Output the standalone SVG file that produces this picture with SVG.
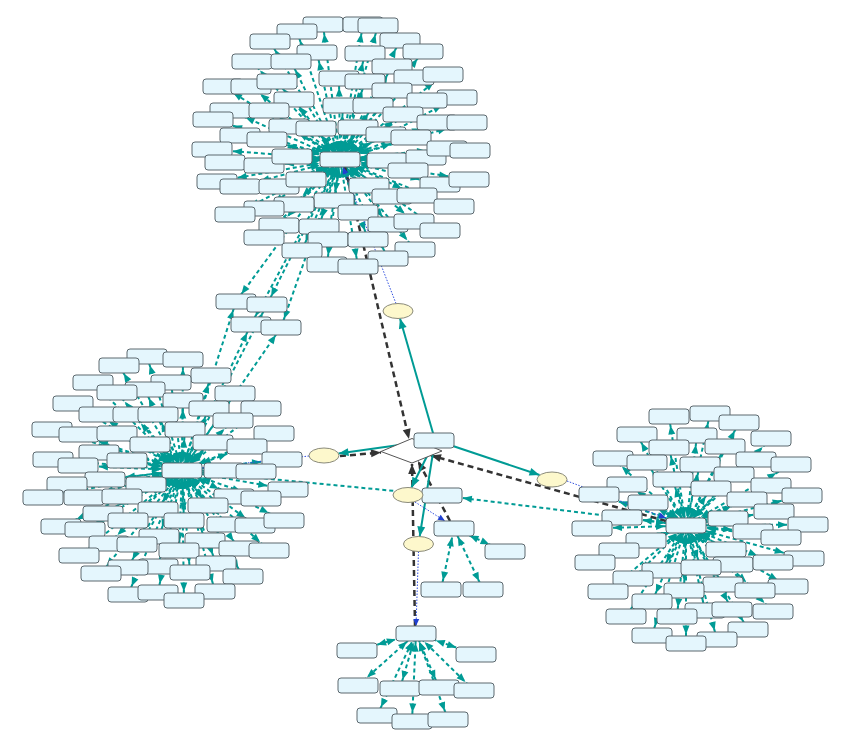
<svg xmlns="http://www.w3.org/2000/svg" width="842" height="755" viewBox="0 0 842 755">
<style>
.n{fill:#e4f6fd;stroke:#5c686e;stroke-width:1;width:40px;height:15px;rx:3px;ry:3px}
.e{fill:#fdf8cc;stroke:#8a8a7a;stroke-width:1}
.d{fill:#fff;stroke:#555;stroke-width:1}
.td line{stroke:#009b95;stroke-width:2;stroke-dasharray:4 3;fill:none}
.A{marker-start:url(#a9);marker-end:url(#a9)}
.B{marker-start:url(#a12);marker-end:url(#a12)}
.C{marker-start:url(#a17);marker-end:url(#a17)}
.D{marker-start:url(#a21);marker-end:url(#a21)}
.bk{stroke:#333;stroke-width:2.5;stroke-dasharray:6 4;fill:none;marker-end:url(#mbk)}
.ts{stroke:#009b95;stroke-width:2;fill:none;marker-end:url(#mts)}
.bl{stroke:#3050e0;stroke-width:1;stroke-dasharray:1.5 1.5;fill:none;marker-end:url(#mbl)}
</style>
<defs>
<marker id="a9" markerUnits="userSpaceOnUse" markerWidth="1" markerHeight="1" overflow="visible" orient="auto-start-reverse"><path d="M-18,-3.5L-9,0L-18,3.5Z" fill="#009b95"/></marker>
<marker id="a12" markerUnits="userSpaceOnUse" markerWidth="1" markerHeight="1" overflow="visible" orient="auto-start-reverse"><path d="M-21,-3.5L-12,0L-21,3.5Z" fill="#009b95"/></marker>
<marker id="a17" markerUnits="userSpaceOnUse" markerWidth="1" markerHeight="1" overflow="visible" orient="auto-start-reverse"><path d="M-26,-3.5L-17,0L-26,3.5Z" fill="#009b95"/></marker>
<marker id="a21" markerUnits="userSpaceOnUse" markerWidth="1" markerHeight="1" overflow="visible" orient="auto-start-reverse"><path d="M-30,-3.5L-21,0L-30,3.5Z" fill="#009b95"/></marker>
<marker id="mbk" markerUnits="userSpaceOnUse" markerWidth="1" markerHeight="1" overflow="visible" orient="auto"><path d="M-10,-4L0,0L-10,4Z" fill="#333"/></marker>
<marker id="mts" markerUnits="userSpaceOnUse" markerWidth="1" markerHeight="1" overflow="visible" orient="auto"><path d="M-10,-4L0,0L-10,4Z" fill="#009b95"/></marker>
<marker id="mbl" markerUnits="userSpaceOnUse" markerWidth="1" markerHeight="1" overflow="visible" orient="auto"><path d="M-7,-3L0,0L-7,3Z" fill="#2040d0"/></marker>
</defs>
<rect width="842" height="755" fill="#fff"/>
<g id="connectors">
<g class="td">
<g class="A">
<line x1="323" y1="24.5" x2="340" y2="159.5"/><line x1="363" y1="24.5" x2="340" y2="159.5"/><line x1="378" y1="25.5" x2="340" y2="159.5"/><line x1="297" y1="31.5" x2="340" y2="159.5"/><line x1="270" y1="41.5" x2="340" y2="159.5"/><line x1="400" y1="40.5" x2="340" y2="159.5"/><line x1="317" y1="52.5" x2="340" y2="159.5"/><line x1="365" y1="53.5" x2="340" y2="159.5"/><line x1="423" y1="51.5" x2="340" y2="159.5"/><line x1="291" y1="61.5" x2="340" y2="159.5"/><line x1="392" y1="66.5" x2="340" y2="159.5"/><line x1="339" y1="78.5" x2="340" y2="159.5"/><line x1="365" y1="81.5" x2="340" y2="159.5"/><line x1="277" y1="81.5" x2="340" y2="159.5"/><line x1="392" y1="90.5" x2="340" y2="159.5"/><line x1="294" y1="99.5" x2="340" y2="159.5"/><line x1="343" y1="105.5" x2="340" y2="159.5"/><line x1="373" y1="105.5" x2="340" y2="159.5"/><line x1="316" y1="128.5" x2="340" y2="159.5"/><line x1="358" y1="127.5" x2="340" y2="159.5"/><line x1="334" y1="200.5" x2="340" y2="159.5"/><line x1="358" y1="212.5" x2="340" y2="159.5"/><line x1="319" y1="226.5" x2="340" y2="159.5"/><line x1="388" y1="224.5" x2="340" y2="159.5"/><line x1="328" y1="239.5" x2="340" y2="159.5"/><line x1="368" y1="239.5" x2="340" y2="159.5"/><line x1="302" y1="250.5" x2="340" y2="159.5"/><line x1="388" y1="258.5" x2="340" y2="159.5"/><line x1="327" y1="264.5" x2="340" y2="159.5"/><line x1="358" y1="266.5" x2="340" y2="159.5"/>
<line x1="236" y1="301.5" x2="340" y2="159.5"/><line x1="267" y1="304.5" x2="340" y2="159.5"/><line x1="251" y1="324.5" x2="340" y2="159.5"/><line x1="281" y1="327.5" x2="340" y2="159.5"/>
<line x1="236" y1="301.5" x2="182" y2="470.5"/><line x1="267" y1="304.5" x2="182" y2="470.5"/><line x1="251" y1="324.5" x2="182" y2="470.5"/><line x1="281" y1="327.5" x2="182" y2="470.5"/>
<line x1="147" y1="356.5" x2="182" y2="470.5"/><line x1="183" y1="359.5" x2="182" y2="470.5"/><line x1="119" y1="365.5" x2="182" y2="470.5"/><line x1="211" y1="375.5" x2="182" y2="470.5"/><line x1="171" y1="382.5" x2="182" y2="470.5"/><line x1="145" y1="389.5" x2="182" y2="470.5"/><line x1="235" y1="393.5" x2="182" y2="470.5"/><line x1="183" y1="400.5" x2="182" y2="470.5"/><line x1="209" y1="408.5" x2="182" y2="470.5"/><line x1="158" y1="414.5" x2="182" y2="470.5"/><line x1="185" y1="429.5" x2="182" y2="470.5"/><line x1="208" y1="505.5" x2="182" y2="470.5"/><line x1="158" y1="509.5" x2="182" y2="470.5"/><line x1="184" y1="520.5" x2="182" y2="470.5"/><line x1="159" y1="536.5" x2="182" y2="470.5"/><line x1="137" y1="544.5" x2="182" y2="470.5"/><line x1="205" y1="540.5" x2="182" y2="470.5"/><line x1="179" y1="550.5" x2="182" y2="470.5"/><line x1="239" y1="548.5" x2="182" y2="470.5"/><line x1="216" y1="563.5" x2="182" y2="470.5"/><line x1="158" y1="566.5" x2="182" y2="470.5"/><line x1="128" y1="567.5" x2="182" y2="470.5"/><line x1="190" y1="572.5" x2="182" y2="470.5"/><line x1="101" y1="573.5" x2="182" y2="470.5"/><line x1="243" y1="576.5" x2="182" y2="470.5"/><line x1="128" y1="594.5" x2="182" y2="470.5"/><line x1="158" y1="592.5" x2="182" y2="470.5"/><line x1="215" y1="591.5" x2="182" y2="470.5"/><line x1="184" y1="600.5" x2="182" y2="470.5"/>
<line x1="669" y1="416.5" x2="686" y2="525.5"/><line x1="710" y1="413.5" x2="686" y2="525.5"/><line x1="739" y1="422.5" x2="686" y2="525.5"/><line x1="637" y1="434.5" x2="686" y2="525.5"/><line x1="697" y1="435.5" x2="686" y2="525.5"/><line x1="669" y1="447.5" x2="686" y2="525.5"/><line x1="725" y1="446.5" x2="686" y2="525.5"/><line x1="647" y1="462.5" x2="686" y2="525.5"/><line x1="700" y1="464.5" x2="686" y2="525.5"/><line x1="673" y1="479.5" x2="686" y2="525.5"/><line x1="711" y1="488.5" x2="686" y2="525.5"/><line x1="662" y1="570.5" x2="686" y2="525.5"/><line x1="701" y1="567.5" x2="686" y2="525.5"/><line x1="723" y1="584.5" x2="686" y2="525.5"/><line x1="684" y1="590.5" x2="686" y2="525.5"/><line x1="652" y1="601.5" x2="686" y2="525.5"/><line x1="705" y1="610.5" x2="686" y2="525.5"/><line x1="732" y1="609.5" x2="686" y2="525.5"/><line x1="626" y1="616.5" x2="686" y2="525.5"/><line x1="677" y1="616.5" x2="686" y2="525.5"/><line x1="748" y1="629.5" x2="686" y2="525.5"/><line x1="652" y1="635.5" x2="686" y2="525.5"/><line x1="717" y1="639.5" x2="686" y2="525.5"/><line x1="686" y1="643.5" x2="686" y2="525.5"/>
<line x1="400" y1="688.5" x2="416" y2="633.5"/><line x1="439" y1="687.5" x2="416" y2="633.5"/><line x1="377" y1="715.5" x2="416" y2="633.5"/><line x1="412" y1="721.5" x2="416" y2="633.5"/><line x1="448" y1="719.5" x2="416" y2="633.5"/>
<line x1="441" y1="589.5" x2="454" y2="528.5"/><line x1="483" y1="589.5" x2="454" y2="528.5"/>
</g>
<g class="B">
<line x1="252" y1="61.5" x2="340" y2="159.5"/><line x1="414" y1="77.5" x2="340" y2="159.5"/><line x1="443" y1="74.5" x2="340" y2="159.5"/><line x1="223" y1="86.5" x2="340" y2="159.5"/><line x1="251" y1="86.5" x2="340" y2="159.5"/><line x1="427" y1="100.5" x2="340" y2="159.5"/><line x1="269" y1="110.5" x2="340" y2="159.5"/><line x1="403" y1="114.5" x2="340" y2="159.5"/><line x1="289" y1="126.5" x2="340" y2="159.5"/><line x1="369" y1="185.5" x2="340" y2="159.5"/><line x1="294" y1="204.5" x2="340" y2="159.5"/><line x1="264" y1="208.5" x2="340" y2="159.5"/><line x1="392" y1="196.5" x2="340" y2="159.5"/><line x1="279" y1="225.5" x2="340" y2="159.5"/><line x1="414" y1="221.5" x2="340" y2="159.5"/><line x1="440" y1="230.5" x2="340" y2="159.5"/><line x1="264" y1="237.5" x2="340" y2="159.5"/><line x1="415" y1="249.5" x2="340" y2="159.5"/>
<line x1="93" y1="382.5" x2="182" y2="470.5"/><line x1="117" y1="392.5" x2="182" y2="470.5"/><line x1="73" y1="403.5" x2="182" y2="470.5"/><line x1="261" y1="408.5" x2="182" y2="470.5"/><line x1="99" y1="414.5" x2="182" y2="470.5"/><line x1="133" y1="414.5" x2="182" y2="470.5"/><line x1="233" y1="420.5" x2="182" y2="470.5"/><line x1="213" y1="442.5" x2="182" y2="470.5"/><line x1="150" y1="444.5" x2="182" y2="470.5"/><line x1="128" y1="520.5" x2="182" y2="470.5"/><line x1="227" y1="524.5" x2="182" y2="470.5"/><line x1="255" y1="525.5" x2="182" y2="470.5"/><line x1="85" y1="529.5" x2="182" y2="470.5"/><line x1="109" y1="543.5" x2="182" y2="470.5"/><line x1="269" y1="550.5" x2="182" y2="470.5"/><line x1="79" y1="555.5" x2="182" y2="470.5"/>
<line x1="771" y1="438.5" x2="686" y2="525.5"/><line x1="613" y1="458.5" x2="686" y2="525.5"/><line x1="756" y1="459.5" x2="686" y2="525.5"/><line x1="734" y1="474.5" x2="686" y2="525.5"/><line x1="627" y1="484.5" x2="686" y2="525.5"/><line x1="648" y1="502.5" x2="686" y2="525.5"/><line x1="733" y1="564.5" x2="686" y2="525.5"/><line x1="633" y1="578.5" x2="686" y2="525.5"/><line x1="788" y1="586.5" x2="686" y2="525.5"/><line x1="608" y1="591.5" x2="686" y2="525.5"/><line x1="755" y1="590.5" x2="686" y2="525.5"/><line x1="773" y1="611.5" x2="686" y2="525.5"/>
<line x1="358" y1="685.5" x2="416" y2="633.5"/><line x1="474" y1="690.5" x2="416" y2="633.5"/>
</g>
<g class="C">
<line x1="457" y1="97.5" x2="340" y2="159.5"/><line x1="230" y1="110.5" x2="340" y2="159.5"/><line x1="437" y1="122.5" x2="340" y2="159.5"/><line x1="386" y1="134.5" x2="340" y2="159.5"/><line x1="279" y1="186.5" x2="340" y2="159.5"/><line x1="306" y1="179.5" x2="340" y2="159.5"/><line x1="235" y1="214.5" x2="340" y2="159.5"/><line x1="417" y1="195.5" x2="340" y2="159.5"/><line x1="454" y1="206.5" x2="340" y2="159.5"/>
<line x1="117" y1="433.5" x2="182" y2="470.5"/><line x1="274" y1="433.5" x2="182" y2="470.5"/><line x1="146" y1="484.5" x2="182" y2="470.5"/><line x1="122" y1="496.5" x2="182" y2="470.5"/><line x1="234" y1="496.5" x2="182" y2="470.5"/><line x1="103" y1="513.5" x2="182" y2="470.5"/><line x1="284" y1="520.5" x2="182" y2="470.5"/><line x1="61" y1="526.5" x2="182" y2="470.5"/>
<line x1="791" y1="464.5" x2="686" y2="525.5"/><line x1="771" y1="485.5" x2="686" y2="525.5"/><line x1="747" y1="499.5" x2="686" y2="525.5"/><line x1="726" y1="549.5" x2="686" y2="525.5"/><line x1="595" y1="562.5" x2="686" y2="525.5"/><line x1="773" y1="562.5" x2="686" y2="525.5"/>
<line x1="505" y1="551.5" x2="454" y2="528.5"/>
</g>
<g class="D">
<line x1="213" y1="119.5" x2="340" y2="159.5"/><line x1="467" y1="122.5" x2="340" y2="159.5"/><line x1="411" y1="137.5" x2="340" y2="159.5"/><line x1="240" y1="135.5" x2="340" y2="159.5"/><line x1="267" y1="139.5" x2="340" y2="159.5"/><line x1="212" y1="149.5" x2="340" y2="159.5"/><line x1="225" y1="162.5" x2="340" y2="159.5"/><line x1="264" y1="165.5" x2="340" y2="159.5"/><line x1="292" y1="156.5" x2="340" y2="159.5"/><line x1="387" y1="160.5" x2="340" y2="159.5"/><line x1="426" y1="157.5" x2="340" y2="159.5"/><line x1="447" y1="148.5" x2="340" y2="159.5"/><line x1="470" y1="150.5" x2="340" y2="159.5"/><line x1="217" y1="181.5" x2="340" y2="159.5"/><line x1="240" y1="186.5" x2="340" y2="159.5"/><line x1="408" y1="170.5" x2="340" y2="159.5"/><line x1="440" y1="184.5" x2="340" y2="159.5"/><line x1="469" y1="179.5" x2="340" y2="159.5"/>
<line x1="52" y1="429.5" x2="182" y2="470.5"/><line x1="79" y1="434.5" x2="182" y2="470.5"/><line x1="247" y1="446.5" x2="182" y2="470.5"/><line x1="99" y1="452.5" x2="182" y2="470.5"/><line x1="53" y1="459.5" x2="182" y2="470.5"/><line x1="78" y1="465.5" x2="182" y2="470.5"/><line x1="127" y1="460.5" x2="182" y2="470.5"/><line x1="282" y1="459.5" x2="182" y2="470.5"/><line x1="224" y1="470.5" x2="182" y2="470.5"/><line x1="256" y1="471.5" x2="182" y2="470.5"/><line x1="105" y1="479.5" x2="182" y2="470.5"/><line x1="67" y1="484.5" x2="182" y2="470.5"/><line x1="43" y1="497.5" x2="182" y2="470.5"/><line x1="84" y1="497.5" x2="182" y2="470.5"/><line x1="288" y1="489.5" x2="182" y2="470.5"/><line x1="261" y1="498.5" x2="182" y2="470.5"/><line x1="442" y1="495.5" x2="182" y2="470.5"/>
<line x1="599" y1="494.5" x2="686" y2="525.5"/><line x1="802" y1="495.5" x2="686" y2="525.5"/><line x1="774" y1="511.5" x2="686" y2="525.5"/><line x1="728" y1="518.5" x2="686" y2="525.5"/><line x1="622" y1="517.5" x2="686" y2="525.5"/><line x1="808" y1="524.5" x2="686" y2="525.5"/><line x1="592" y1="528.5" x2="686" y2="525.5"/><line x1="753" y1="531.5" x2="686" y2="525.5"/><line x1="781" y1="537.5" x2="686" y2="525.5"/><line x1="646" y1="540.5" x2="686" y2="525.5"/><line x1="619" y1="550.5" x2="686" y2="525.5"/><line x1="804" y1="558.5" x2="686" y2="525.5"/><line x1="442" y1="495.5" x2="686" y2="525.5"/>
<line x1="357" y1="650.5" x2="416" y2="633.5"/><line x1="476" y1="654.5" x2="416" y2="633.5"/>
</g>
</g>
<line class="bk" x1="345" y1="167" x2="409" y2="439"/>
<line class="bk" x1="340" y1="456" x2="381" y2="452.5"/>
<line class="bk" x1="666" y1="521" x2="431" y2="455.5"/>
<line class="bk" x1="415" y1="626" x2="412" y2="464"/>
<line class="bk" x1="450" y1="521" x2="418" y2="461"/>
<line class="ts" x1="435" y1="440" x2="400" y2="318.5"/>
<line class="ts" x1="435" y1="440" x2="338.5" y2="453.5"/>
<line class="ts" x1="435" y1="440" x2="539.5" y2="475"/>
<line class="ts" x1="435" y1="440" x2="411.5" y2="487.5"/>
<line class="ts" x1="435" y1="440" x2="419.7" y2="536.5"/>
<line class="bl" x1="396" y1="303.5" x2="343" y2="167"/>
<line class="bl" x1="309" y1="456" x2="202" y2="468"/>
<line class="bl" x1="567" y1="481" x2="666" y2="518"/>
<line class="bl" x1="415" y1="502" x2="445" y2="521"/>
<line class="bl" x1="418.5" y1="551.5" x2="416" y2="626"/>
</g>
<g id="diamond"><polygon class="d" points="381,451.5 412,438.5 442,451 412,463"/></g>
<g id="top-cluster">
<g id="t1"><rect class="n" x="303" y="17"/></g><g id="t2"><rect class="n" x="343" y="17"/></g><g id="t3"><rect class="n" x="358" y="18"/></g><g id="t4"><rect class="n" x="277" y="24"/></g><g id="t5"><rect class="n" x="250" y="34"/></g><g id="t6"><rect class="n" x="380" y="33"/></g><g id="t7"><rect class="n" x="297" y="45"/></g><g id="t8"><rect class="n" x="345" y="46"/></g><g id="t9"><rect class="n" x="403" y="44"/></g><g id="t10"><rect class="n" x="232" y="54"/></g><g id="t11"><rect class="n" x="271" y="54"/></g><g id="t12"><rect class="n" x="372" y="59"/></g><g id="t13"><rect class="n" x="319" y="71"/></g><g id="t14"><rect class="n" x="345" y="74"/></g><g id="t15"><rect class="n" x="394" y="70"/></g><g id="t16"><rect class="n" x="423" y="67"/></g><g id="t17"><rect class="n" x="203" y="79"/></g><g id="t18"><rect class="n" x="231" y="79"/></g><g id="t19"><rect class="n" x="257" y="74"/></g><g id="t20"><rect class="n" x="372" y="83"/></g><g id="t21"><rect class="n" x="274" y="92"/></g><g id="t22"><rect class="n" x="323" y="98"/></g><g id="t23"><rect class="n" x="353" y="98"/></g><g id="t24"><rect class="n" x="437" y="90"/></g><g id="t25"><rect class="n" x="407" y="93"/></g><g id="t26"><rect class="n" x="210" y="103"/></g><g id="t27"><rect class="n" x="249" y="103"/></g><g id="t28"><rect class="n" x="193" y="112"/></g><g id="t29"><rect class="n" x="383" y="107"/></g><g id="t30"><rect class="n" x="417" y="115"/></g><g id="t31"><rect class="n" x="447" y="115"/></g><g id="t32"><rect class="n" x="269" y="119"/></g><g id="t33"><rect class="n" x="296" y="121"/></g><g id="t34"><rect class="n" x="338" y="120"/></g><g id="t35"><rect class="n" x="366" y="127"/></g><g id="t36"><rect class="n" x="391" y="130"/></g><g id="t37"><rect class="n" x="220" y="128"/></g><g id="t38"><rect class="n" x="247" y="132"/></g><g id="t39"><rect class="n" x="192" y="142"/></g><g id="t40"><rect class="n" x="205" y="155"/></g><g id="t41"><rect class="n" x="244" y="158"/></g><g id="t42"><rect class="n" x="272" y="149"/></g><g id="t43"><rect class="n" x="367" y="153"/></g><g id="t44"><rect class="n" x="406" y="150"/></g><g id="t45"><rect class="n" x="427" y="141"/></g><g id="t46"><rect class="n" x="450" y="143"/></g><g id="t47"><rect class="n" x="197" y="174"/></g><g id="t48"><rect class="n" x="220" y="179"/></g><g id="t49"><rect class="n" x="259" y="179"/></g><g id="t50"><rect class="n" x="286" y="172"/></g><g id="t51"><rect class="n" x="349" y="178"/></g><g id="t52"><rect class="n" x="388" y="163"/></g><g id="t53"><rect class="n" x="420" y="177"/></g><g id="t54"><rect class="n" x="449" y="172"/></g><g id="t55"><rect class="n" x="314" y="193"/></g><g id="t56"><rect class="n" x="274" y="197"/></g><g id="t57"><rect class="n" x="244" y="201"/></g><g id="t58"><rect class="n" x="215" y="207"/></g><g id="t59"><rect class="n" x="372" y="189"/></g><g id="t60"><rect class="n" x="397" y="188"/></g><g id="t61"><rect class="n" x="434" y="199"/></g><g id="t62"><rect class="n" x="338" y="205"/></g><g id="t63"><rect class="n" x="259" y="218"/></g><g id="t64"><rect class="n" x="299" y="219"/></g><g id="t65"><rect class="n" x="368" y="217"/></g><g id="t66"><rect class="n" x="394" y="214"/></g><g id="t67"><rect class="n" x="420" y="223"/></g><g id="t68"><rect class="n" x="244" y="230"/></g><g id="t69"><rect class="n" x="308" y="232"/></g><g id="t70"><rect class="n" x="348" y="232"/></g><g id="t71"><rect class="n" x="395" y="242"/></g><g id="t72"><rect class="n" x="282" y="243"/></g><g id="t73"><rect class="n" x="368" y="251"/></g><g id="t74"><rect class="n" x="307" y="257"/></g><g id="t75"><rect class="n" x="338" y="259"/></g>
<g id="t0"><rect class="n" x="320" y="152"/></g>
</g>
<g id="middle-group">
<g id="m1"><rect class="n" x="216" y="294"/></g><g id="m2"><rect class="n" x="247" y="297"/></g><g id="m3"><rect class="n" x="231" y="317"/></g><g id="m4"><rect class="n" x="261" y="320"/></g>
</g>
<g id="left-cluster">
<g id="l1"><rect class="n" x="127" y="349"/></g><g id="l2"><rect class="n" x="163" y="352"/></g><g id="l3"><rect class="n" x="99" y="358"/></g><g id="l4"><rect class="n" x="191" y="368"/></g><g id="l5"><rect class="n" x="73" y="375"/></g><g id="l6"><rect class="n" x="151" y="375"/></g><g id="l7"><rect class="n" x="125" y="382"/></g><g id="l8"><rect class="n" x="97" y="385"/></g><g id="l9"><rect class="n" x="215" y="386"/></g><g id="l10"><rect class="n" x="53" y="396"/></g><g id="l11"><rect class="n" x="163" y="393"/></g><g id="l12"><rect class="n" x="189" y="401"/></g><g id="l13"><rect class="n" x="241" y="401"/></g><g id="l14"><rect class="n" x="79" y="407"/></g><g id="l15"><rect class="n" x="113" y="407"/></g><g id="l16"><rect class="n" x="138" y="407"/></g><g id="l17"><rect class="n" x="213" y="413"/></g><g id="l18"><rect class="n" x="32" y="422"/></g><g id="l19"><rect class="n" x="59" y="427"/></g><g id="l20"><rect class="n" x="97" y="426"/></g><g id="l21"><rect class="n" x="165" y="422"/></g><g id="l22"><rect class="n" x="254" y="426"/></g><g id="l23"><rect class="n" x="193" y="435"/></g><g id="l24"><rect class="n" x="227" y="439"/></g><g id="l25"><rect class="n" x="79" y="445"/></g><g id="l26"><rect class="n" x="130" y="437"/></g><g id="l27"><rect class="n" x="33" y="452"/></g><g id="l28"><rect class="n" x="58" y="458"/></g><g id="l29"><rect class="n" x="107" y="453"/></g><g id="l30"><rect class="n" x="262" y="452"/></g><g id="l31"><rect class="n" x="204" y="463"/></g><g id="l32"><rect class="n" x="236" y="464"/></g><g id="l33"><rect class="n" x="85" y="472"/></g><g id="l34"><rect class="n" x="126" y="477"/></g><g id="l35"><rect class="n" x="47" y="477"/></g><g id="l36"><rect class="n" x="23" y="490"/></g><g id="l37"><rect class="n" x="64" y="490"/></g><g id="l38"><rect class="n" x="102" y="489"/></g><g id="l39"><rect class="n" x="268" y="482"/></g><g id="l40"><rect class="n" x="214" y="489"/></g><g id="l41"><rect class="n" x="241" y="491"/></g><g id="l42"><rect class="n" x="188" y="498"/></g><g id="l43"><rect class="n" x="138" y="502"/></g><g id="l44"><rect class="n" x="83" y="506"/></g><g id="l45"><rect class="n" x="108" y="513"/></g><g id="l46"><rect class="n" x="164" y="513"/></g><g id="l47"><rect class="n" x="207" y="517"/></g><g id="l48"><rect class="n" x="235" y="518"/></g><g id="l49"><rect class="n" x="264" y="513"/></g><g id="l50"><rect class="n" x="41" y="519"/></g><g id="l51"><rect class="n" x="65" y="522"/></g><g id="l52"><rect class="n" x="139" y="529"/></g><g id="l53"><rect class="n" x="89" y="536"/></g><g id="l54"><rect class="n" x="117" y="537"/></g><g id="l55"><rect class="n" x="185" y="533"/></g><g id="l56"><rect class="n" x="159" y="543"/></g><g id="l57"><rect class="n" x="219" y="541"/></g><g id="l58"><rect class="n" x="249" y="543"/></g><g id="l59"><rect class="n" x="59" y="548"/></g><g id="l60"><rect class="n" x="196" y="556"/></g><g id="l61"><rect class="n" x="138" y="559"/></g><g id="l62"><rect class="n" x="108" y="560"/></g><g id="l63"><rect class="n" x="170" y="565"/></g><g id="l64"><rect class="n" x="81" y="566"/></g><g id="l65"><rect class="n" x="223" y="569"/></g><g id="l66"><rect class="n" x="108" y="587"/></g><g id="l67"><rect class="n" x="138" y="585"/></g><g id="l68"><rect class="n" x="195" y="584"/></g><g id="l69"><rect class="n" x="164" y="593"/></g>
<g id="l0"><rect class="n" x="162" y="463"/></g>
</g>
<g id="right-cluster">
<g id="r1"><rect class="n" x="649" y="409"/></g><g id="r2"><rect class="n" x="690" y="406"/></g><g id="r3"><rect class="n" x="719" y="415"/></g><g id="r4"><rect class="n" x="617" y="427"/></g><g id="r5"><rect class="n" x="677" y="428"/></g><g id="r6"><rect class="n" x="751" y="431"/></g><g id="r7"><rect class="n" x="649" y="440"/></g><g id="r8"><rect class="n" x="705" y="439"/></g><g id="r9"><rect class="n" x="593" y="451"/></g><g id="r10"><rect class="n" x="627" y="455"/></g><g id="r11"><rect class="n" x="680" y="457"/></g><g id="r12"><rect class="n" x="736" y="452"/></g><g id="r13"><rect class="n" x="771" y="457"/></g><g id="r14"><rect class="n" x="653" y="472"/></g><g id="r15"><rect class="n" x="714" y="467"/></g><g id="r16"><rect class="n" x="607" y="477"/></g><g id="r17"><rect class="n" x="691" y="481"/></g><g id="r18"><rect class="n" x="751" y="478"/></g><g id="r19"><rect class="n" x="579" y="487"/></g><g id="r20"><rect class="n" x="628" y="495"/></g><g id="r21"><rect class="n" x="727" y="492"/></g><g id="r22"><rect class="n" x="782" y="488"/></g><g id="r23"><rect class="n" x="754" y="504"/></g><g id="r24"><rect class="n" x="708" y="511"/></g><g id="r25"><rect class="n" x="602" y="510"/></g><g id="r26"><rect class="n" x="788" y="517"/></g><g id="r27"><rect class="n" x="572" y="521"/></g><g id="r28"><rect class="n" x="733" y="524"/></g><g id="r29"><rect class="n" x="761" y="530"/></g><g id="r30"><rect class="n" x="626" y="533"/></g><g id="r31"><rect class="n" x="599" y="543"/></g><g id="r32"><rect class="n" x="706" y="542"/></g><g id="r33"><rect class="n" x="784" y="551"/></g><g id="r34"><rect class="n" x="575" y="555"/></g><g id="r35"><rect class="n" x="713" y="557"/></g><g id="r36"><rect class="n" x="753" y="555"/></g><g id="r37"><rect class="n" x="642" y="563"/></g><g id="r38"><rect class="n" x="681" y="560"/></g><g id="r39"><rect class="n" x="613" y="571"/></g><g id="r40"><rect class="n" x="703" y="577"/></g><g id="r41"><rect class="n" x="768" y="579"/></g><g id="r42"><rect class="n" x="588" y="584"/></g><g id="r43"><rect class="n" x="664" y="583"/></g><g id="r44"><rect class="n" x="735" y="583"/></g><g id="r45"><rect class="n" x="632" y="594"/></g><g id="r46"><rect class="n" x="685" y="603"/></g><g id="r47"><rect class="n" x="712" y="602"/></g><g id="r48"><rect class="n" x="753" y="604"/></g><g id="r49"><rect class="n" x="606" y="609"/></g><g id="r50"><rect class="n" x="657" y="609"/></g><g id="r51"><rect class="n" x="728" y="622"/></g><g id="r52"><rect class="n" x="632" y="628"/></g><g id="r53"><rect class="n" x="697" y="632"/></g><g id="r54"><rect class="n" x="666" y="636"/></g>
<g id="r0"><rect class="n" x="666" y="518"/></g>
</g>
<g id="bottom-cluster">
<g id="b1"><rect class="n" x="337" y="643"/></g><g id="b2"><rect class="n" x="456" y="647"/></g><g id="b3"><rect class="n" x="338" y="678"/></g><g id="b4"><rect class="n" x="380" y="681"/></g><g id="b5"><rect class="n" x="419" y="680"/></g><g id="b6"><rect class="n" x="454" y="683"/></g><g id="b7"><rect class="n" x="357" y="708"/></g><g id="b8"><rect class="n" x="392" y="714"/></g><g id="b9"><rect class="n" x="428" y="712"/></g>
<g id="b0"><rect class="n" x="396" y="626"/></g>
</g>
<g id="small-cluster">
<g id="s0"><rect class="n" x="434" y="521"/></g><g id="s1"><rect class="n" x="485" y="544"/></g><g id="s2"><rect class="n" x="421" y="582"/></g><g id="s3"><rect class="n" x="463" y="582"/></g>
<g id="k"><rect class="n" x="422" y="488"/></g>
</g>
<g id="ellipses">
<g id="e-top"><ellipse class="e" cx="398" cy="311" rx="15" ry="7.5"/></g>
<g id="e-left"><ellipse class="e" cx="324" cy="455.5" rx="15" ry="7.5"/></g>
<g id="e-right"><ellipse class="e" cx="552" cy="479.5" rx="15" ry="7.5"/></g>
<g id="e-mid"><ellipse class="e" cx="408" cy="495" rx="15" ry="7.5"/></g>
<g id="e-bottom"><ellipse class="e" cx="418.5" cy="544" rx="15" ry="7.5"/></g>
</g>
<g id="hub"><rect class="n" x="414" y="433"/></g>
</svg>
